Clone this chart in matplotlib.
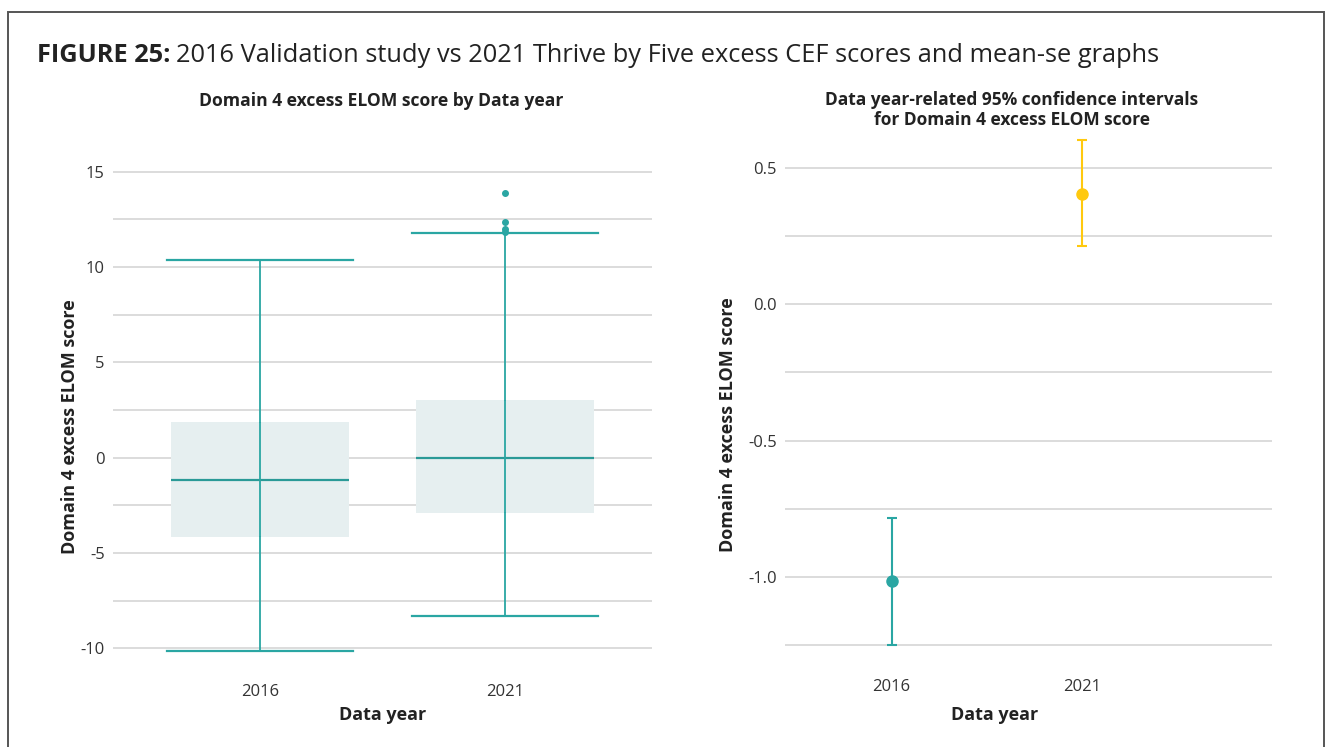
import matplotlib
matplotlib.use("Agg")
import matplotlib.pyplot as plt
from matplotlib.patches import Rectangle
from matplotlib.ticker import MultipleLocator, FuncFormatter

plt.rcParams['font.family'] = ['Open Sans', 'DejaVu Sans']
plt.rcParams['axes.unicode_minus'] = False

# data
years = ["2016", "2021"]
box_q1 = [-4.16, -2.88]
box_med = [-1.17, 0.0]
box_q3 = [1.87, 3.03]
whis_lo = [-10.14, -8.30]
whis_hi = [10.34, 11.80]
outliers = [[], [13.88, 12.36, 12.01, 11.82]]

ci_mean = [-1.015, 0.404]
ci_lo = [-1.25, 0.214]
ci_hi = [-0.783, 0.60]
ci_colors = ["#2aa6a3", "#ffc90e"]

TEAL = "#2aa6a3"
GRID = "#d9d9d9"
TXT = "#333333"
DARK = "#222222"

W, H = 1325, 747
fig = plt.figure(figsize=(W / 100, H / 100), dpi=100)


def fbox(x0, y0, x1, y1):
    # pixel box -> figure fraction rect
    return [x0 / W, 1 - y1 / H, (x1 - x0) / W, (y1 - y0) / H]


def style(ax):
    for s in ax.spines.values():
        s.set_visible(False)
    ax.grid(axis="y", color=GRID, linewidth=1.3)
    ax.set_axisbelow(True)
    ax.tick_params(length=0, labelsize=12, labelcolor=TXT, pad=6)
    ax.tick_params(axis="x", pad=20)


# left: box plot
ax1 = fig.add_axes(fbox(113, 169.6, 652, 656))
style(ax1)
stats = []
for i in range(len(years)):
    stats.append(dict(med=box_med[i], q1=box_q1[i], q3=box_q3[i],
                      whislo=whis_lo[i], whishi=whis_hi[i],
                      fliers=outliers[i], label=years[i]))
pos = list(range(len(years)))
ax1.bxp(stats, positions=pos, widths=0.73, capwidths=0.76, patch_artist=True,
        boxprops=dict(facecolor="#e6eff0", edgecolor="none"),
        whiskerprops=dict(color=TEAL, linewidth=1.3),
        capprops=dict(color=TEAL, linewidth=1.6),
        medianprops=dict(color="#2a9a97", linewidth=1.6),
        flierprops=dict(marker="o", markerfacecolor=TEAL, markeredgecolor=TEAL,
                        markersize=4))
ax1.vlines(pos, box_q1, box_q3, color=TEAL, linewidth=1.3, zorder=3)
ax1.set_xlim(-0.6, 1.6)
ax1.set_ylim(-10.4, 15.1)
ax1.yaxis.set_major_locator(MultipleLocator(2.5))
ax1.yaxis.set_major_formatter(FuncFormatter(
    lambda v, p: f"{v:.0f}" if abs(v % 5) < 1e-9 else ""))
ax1.set_xlabel("Data year", fontsize=13, fontweight="bold", color=DARK)
ax1.set_ylabel("Domain 4 excess ELOM score", fontsize=13, fontweight="bold",
               color=DARK)
ax1.xaxis.set_label_coords(383 / W, 1 - 715 / H, transform=fig.transFigure)
ax1.yaxis.set_label_coords(70 / W, 1 - 427 / H, transform=fig.transFigure)
ax1.xaxis.label.set_va("center")
ax1.yaxis.label.set_va("center")

# right: mean and 95% CI
ax2 = fig.add_axes(fbox(785, 135.0, 1272, 650.8))
style(ax2)
for i in range(len(years)):
    ax2.errorbar([i], [ci_mean[i]],
                 yerr=[[ci_mean[i] - ci_lo[i]], [ci_hi[i] - ci_mean[i]]],
                 fmt="o", color=ci_colors[i], ecolor=ci_colors[i],
                 markersize=8, elinewidth=1.5, capsize=3.5, capthick=1.5,
                 zorder=3)
ax2.set_xticks(pos)
ax2.set_xticklabels(years)
ax2.set_xlim(-0.56, 2.0)
ax2.set_ylim(-1.27, 0.62)
ax2.yaxis.set_major_locator(MultipleLocator(0.25))
ax2.yaxis.set_major_formatter(FuncFormatter(
    lambda v, p: f"{v:.1f}" if abs((v * 2) % 1) < 1e-9 else ""))
ax2.set_xlabel("Data year", fontsize=13, fontweight="bold", color=DARK)
ax2.set_ylabel("Domain 4 excess ELOM score", fontsize=13, fontweight="bold",
               color=DARK)
ax2.xaxis.set_label_coords(995 / W, 1 - 715 / H, transform=fig.transFigure)
ax2.yaxis.set_label_coords(728 / W, 1 - 425 / H, transform=fig.transFigure)
ax2.xaxis.label.set_va("center")
ax2.yaxis.label.set_va("center")

# subplot titles
fig.text(381 / W, 1 - 101 / H, "Domain 4 excess ELOM score by Data year",
         ha="center", va="center", fontsize=12.6, fontweight="bold",
         color=DARK)
fig.text(1012 / W, 1 - 110 / H,
         "Data year-related 95% confidence intervals\nfor Domain 4 excess ELOM score",
         ha="center", va="center", fontsize=12.5, fontweight="bold",
         color=DARK, linespacing=1.15)

# figure title, bold prefix then regular text
t1 = fig.text(37 / W, 1 - 55 / H, "FIGURE 25:", ha="left", va="center",
              fontsize=18.3, fontweight="bold", color=DARK)
fig.canvas.draw()
bb = t1.get_window_extent(renderer=fig.canvas.get_renderer())
fig.text((bb.x1 + 6) / W, 1 - 55 / H,
         "2016 Validation study vs 2021 Thrive by Five excess CEF scores and mean-se graphs",
         ha="left", va="center", fontsize=18.3, color=DARK)

# outer frame
fig.patches.append(Rectangle((8 / W, -0.05), (1323.5 - 8) / W, 1.05 - 12 / H,
                             transform=fig.transFigure, fill=False,
                             edgecolor="#555555", linewidth=1.4))

fig.savefig("out.png", dpi=100)
